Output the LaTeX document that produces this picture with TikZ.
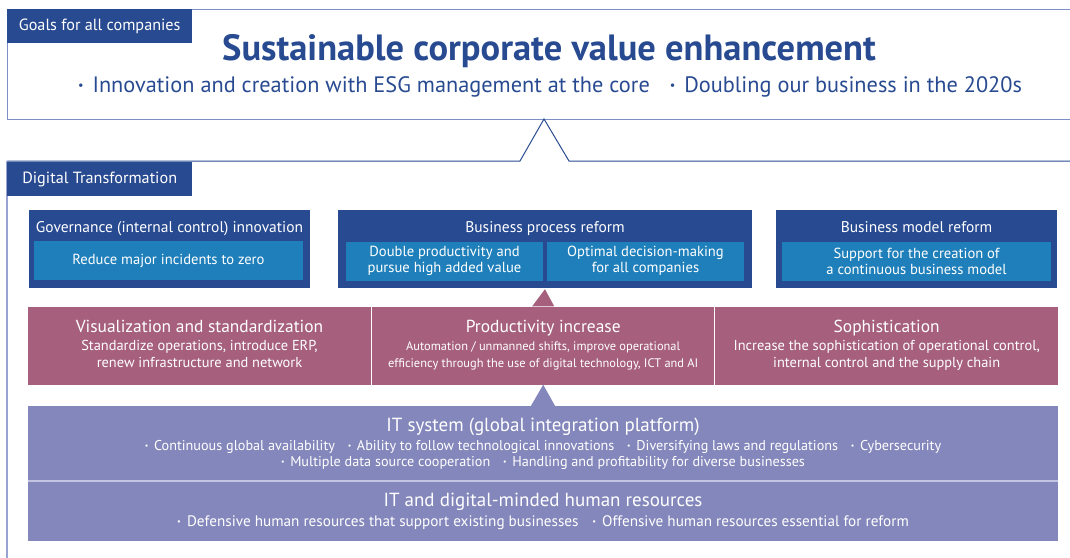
\documentclass[tikz,border=0pt]{standalone}
\usepackage{fontspec}
\setmainfont{PT Sans}
\usetikzlibrary{calc}

\definecolor{navy}{HTML}{284A91}
\definecolor{skyfill}{HTML}{1F7FBA}
\definecolor{mauve}{HTML}{A6607E}
\definecolor{lavender}{HTML}{8487BB}
\definecolor{lavline}{HTML}{C3C4E2}
\definecolor{goalline}{HTML}{7D8FC6}
\definecolor{frameside}{HTML}{98A3D4}

\newcommand{\itemdot}{\raisebox{0.12em}{\scalebox{0.55}{\textbullet}}\hspace{0.4em}}
\newcommand{\itemgap}{\hspace{0.9em}}

\tikzset{
    tag/.style={fill=navy, text=white, minimum width=185, minimum height=34, anchor=north west, inner sep=0, font=\fontsize{16.2}{19}\selectfont},
    outer/.style={fill=navy, minimum height=78, inner sep=0},
    head/.style={text=white, anchor=base, inner sep=0, font=\fontsize{15.5}{18}\selectfont},
    inner/.style={fill=skyfill, text=white, minimum height=39, align=center, inner sep=0, font=\fontsize{14.6}{16}\selectfont},
    cell/.style={fill=mauve, text=white, minimum height=78, align=center, inner sep=0, font=\fontsize{14.4}{16.5}\selectfont},
    band/.style={fill=lavender, text=white, minimum width=1030, align=center, inner sep=0, font=\fontsize{14.2}{16}\selectfont}
}

\begin{document}
\begin{tikzpicture}[x=1pt, y=-1pt]
    \useasboundingbox (0,0) rectangle (1070,557);

    \node[draw=goalline, line width=1.2, minimum width=1080, minimum height=110, anchor=north west, inner sep=0] (goals) at (7,9) {};
    \node[tag] (goaltag) at (7,9) {Goals for all companies};
    \node[text=navy, anchor=base, font=\bfseries\fontsize{36.5}{42}\selectfont] (aim) at (549,60) {Sustainable corporate value enhancement};
    \node[text=navy, anchor=base, font=\fontsize{22.3}{26}\selectfont] (aimsub) at (550,92) {\itemdot Innovation and creation with ESG management at the core\itemgap\itemdot Doubling our business in the 2020s};

    \draw[navy, line width=1] (7,161) -- (520,161) -- (544,119) -- (569,161) -- (1075,161);
    \draw[frameside, line width=2] (7,161) -- (7,560);
    \node[tag] (dxtag) at (7,162) {Digital Transformation};

    \node[outer, minimum width=281] (gov) at (169.5,249) {};
    \node[head] (govhead) at (169.5,232) {Governance (internal control) innovation};
    \node[inner, minimum width=269] (govsub) at (168.5,260.5) {Reduce major incidents to zero};

    \node[outer, minimum width=414] (bpr) at (545,249) {};
    \node[head] (bprhead) at (545,232) {Business process reform};
    \node[inner, minimum width=197] (bprl) at (444.5,261) {Double productivity and\\pursue high added value};
    \node[inner, minimum width=197] (bprr) at (645.5,261) {Optimal decision-making\\for all companies};

    \node[outer, minimum width=281] (bmr) at (916.5,249) {};
    \node[head] (bmrhead) at (916.5,232) {Business model reform};
    \node[inner, minimum width=269] (bmrsub) at (916.5,261) {Support for the creation of\\a continuous business model};

    \node[cell, minimum width=343] (vis) at (199.5,345.5) {{\fontsize{17.4}{20}\selectfont Visualization and standardization\strut}\\[1.5pt]Standardize operations, introduce ERP,\\renew infrastructure and network\strut};
    \node[cell, minimum width=342] (prod) at (543.2,345.5) {{\fontsize{17.4}{20}\selectfont Productivity increase\strut}\\[1.5pt]{\fontsize{12.4}{16.5}\selectfont Automation / unmanned shifts, improve operational}\\{\fontsize{12.4}{16.5}\selectfont efficiency through the use of digital technology, ICT and AI\strut}};
    \node[cell, minimum width=342.6] (soph) at (886.7,345.5) {{\fontsize{17.4}{20}\selectfont Sophistication\strut}\\[1.5pt]Increase the sophistication of operational control,\\internal control and the supply chain\strut};

    \fill[mauve] ([xshift=-11pt]prod.north) -- ([yshift=-1pt]bpr.south) -- ([xshift=11pt]prod.north) -- cycle;

    \node[band, minimum height=75] (itsys) at (543,443.5) {{\fontsize{19}{22}\selectfont IT system (global integration platform)}\\[3pt]\itemdot Continuous global availability\itemgap\itemdot Ability to follow technological innovations\itemgap\itemdot Diversifying laws and regulations\itemgap\itemdot Cybersecurity\\\itemdot Multiple data source cooperation\itemgap\itemdot Handling and profitability for diverse businesses};
    \node[band, minimum height=59] (ithr) at (543,511.5) {{\fontsize{19}{22}\selectfont IT and digital-minded human resources}\\[4pt]{\fontsize{15.2}{16}\selectfont\itemdot Defensive human resources that support existing businesses\itemgap\itemdot Offensive human resources essential for reform}};
    \draw[lavline, line width=2] (itsys.south west) -- (itsys.south east);

    \fill[lavender] ([xshift=-12pt]itsys.north) -- (prod.south) -- ([xshift=12pt]itsys.north) -- cycle;
\end{tikzpicture}
\end{document}
